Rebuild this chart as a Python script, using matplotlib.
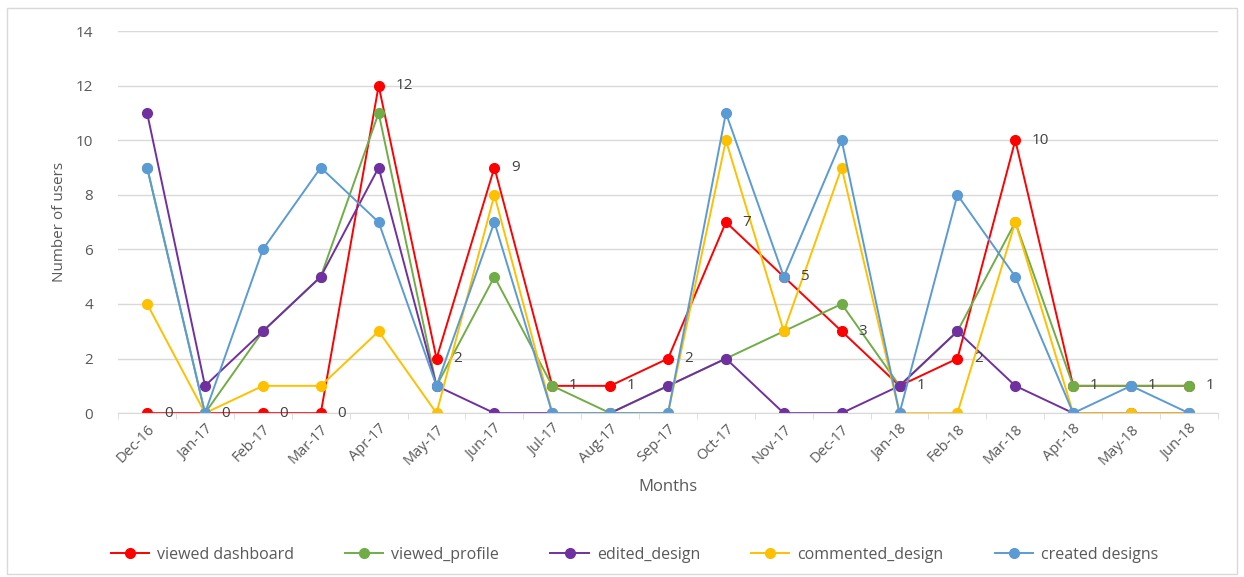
import matplotlib
matplotlib.use('Agg')
import matplotlib.pyplot as plt
from matplotlib.patches import Rectangle
import numpy as np

months = ['Dec-16', 'Jan-17', 'Feb-17', 'Mar-17', 'Apr-17', 'May-17', 'Jun-17',
          'Jul-17', 'Aug-17', 'Sep-17', 'Oct-17', 'Nov-17', 'Dec-17', 'Jan-18',
          'Feb-18', 'Mar-18', 'Apr-18', 'May-18', 'Jun-18']

viewed_dashboard = [0, 0, 0, 0, 12, 2, 9, 1, 1, 2, 7, 5, 3, 1, 2, 10, 1, 1, 1]
viewed_profile = [9, 0, 3, 5, 11, 1, 5, 1, 0, 1, 2, 3, 4, 1, 3, 7, 1, 1, 1]
edited_design = [11, 1, 3, 5, 9, 1, 0, 0, 0, 1, 2, 0, 0, 1, 3, 1, 0, 0, 0]
commented_design = [4, 0, 1, 1, 3, 0, 8, 0, 0, 0, 10, 3, 9, 0, 0, 7, 0, 0, 0]
created_designs = [9, 0, 6, 9, 7, 1, 7, 0, 0, 0, 11, 5, 10, 0, 8, 5, 0, 1, 0]

series = [
    ('viewed dashboard', viewed_dashboard, '#FF0000'),
    ('viewed_profile', viewed_profile, '#70AD47'),
    ('edited_design', edited_design, '#7030A0'),
    ('commented_design', commented_design, '#FFC000'),
    ('created designs', created_designs, '#5B9BD5'),
]

plt.rcParams['font.family'] = ['Open Sans', 'DejaVu Sans']

fig = plt.figure(figsize=(12.44, 5.77), dpi=100)
ax = fig.add_axes([0.095, 0.284, 0.884, 0.662])

x = np.arange(len(months))
for name, vals, col in series:
    ax.plot(x, vals, color=col, linewidth=1.4, marker='o', markersize=7,
            label=name)

# value labels for the dashboard series
for xi, v in zip(x, viewed_dashboard):
    ax.annotate(str(v), (xi, v), xytext=(12, 0), textcoords='offset points',
                va='center', ha='left', fontsize=11, color='#404040')

ax.set_xlim(-0.5, len(months) - 0.5)
ax.set_ylim(0, 14)
ax.set_yticks(range(0, 15, 2))
ax.set_xticks(x)
ax.set_xticklabels(months, rotation=45, ha='right', rotation_mode='anchor',
                   fontsize=10.5, color='#595959')
ax.set_xticks(np.arange(-0.5, len(months), 1), minor=True)
ax.tick_params(axis='x', which='major', length=0, pad=6)
ax.tick_params(axis='x', which='minor', length=4, color='#D9D9D9')
ax.tick_params(axis='y', length=0, labelsize=11, labelcolor='#595959', pad=18)
ax.grid(axis='y', color='#D9D9D9', linewidth=1)
ax.set_axisbelow(True)
for s in ['top', 'right', 'left']:
    ax.spines[s].set_visible(False)
ax.spines['bottom'].set_color('#D9D9D9')

ax.set_xlabel('Months', fontsize=12, color='#595959', labelpad=8)
ax.set_ylabel('Number of users', fontsize=11, color='#595959', labelpad=6)

fig.legend(loc='lower center', bbox_to_anchor=(0.51, 0.0), ncol=5,
           frameon=False, fontsize=11.5, handlelength=2.4, columnspacing=3.2,
           handletextpad=0.5, labelcolor='#595959')

fig.patches.append(Rectangle((0.006, 0.005), 0.988, 0.982, transform=fig.transFigure,
                             fill=False, edgecolor='#D9D9D9', linewidth=1))

fig.savefig('out.png', dpi=100)
